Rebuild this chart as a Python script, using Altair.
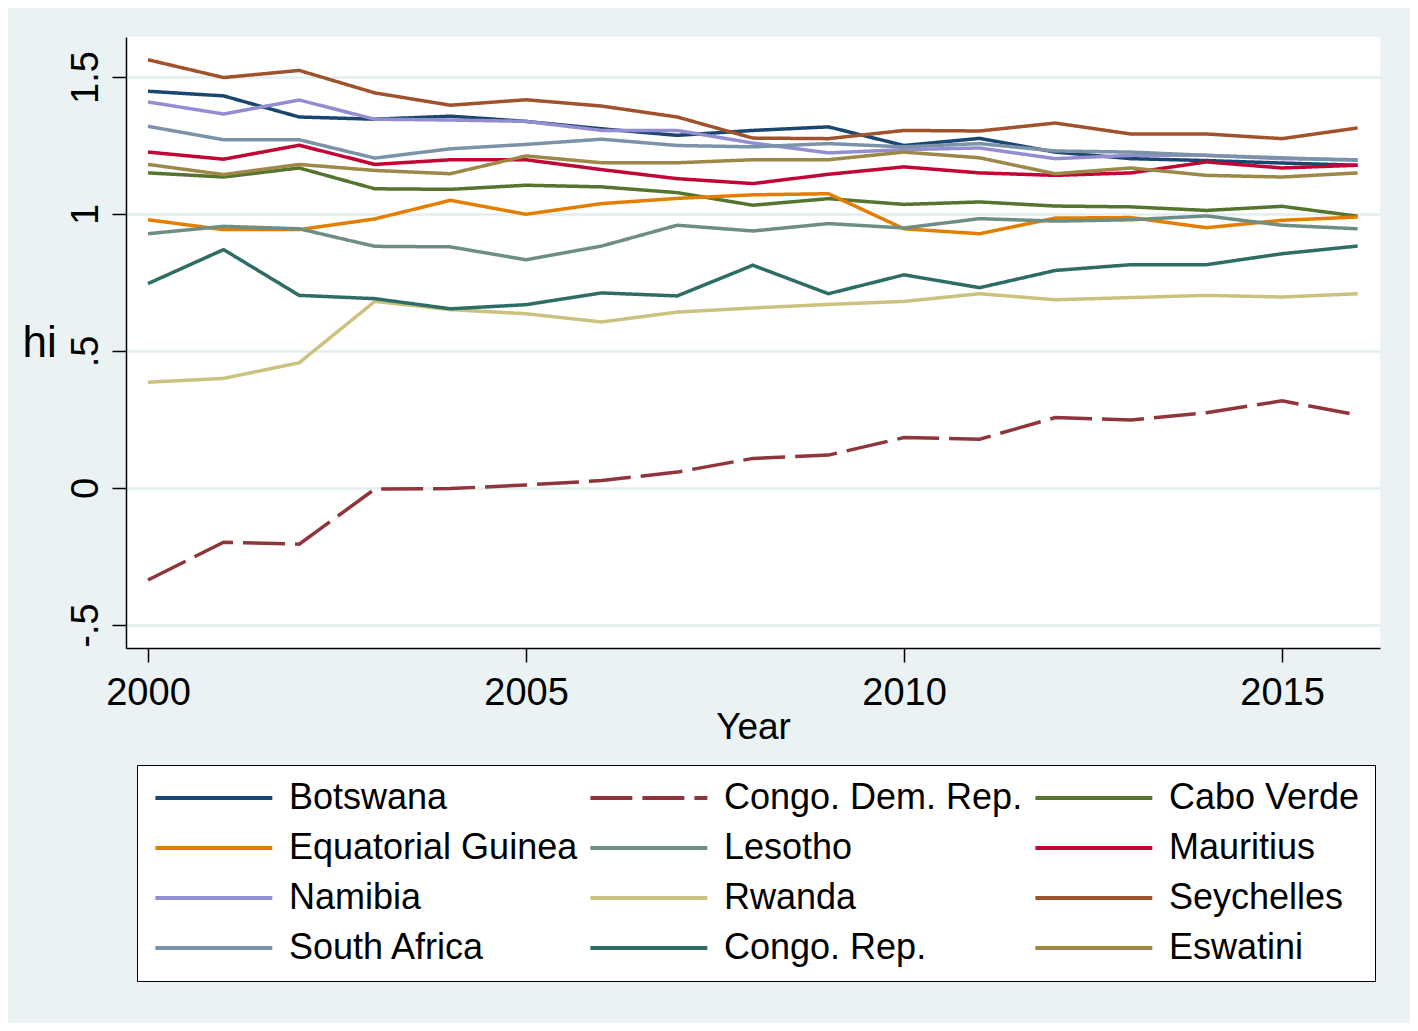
import altair as alt
import pandas as pd

years = list(range(2000, 2017))

countries = ["Botswana", "Congo. Dem. Rep.", "Cabo Verde",
             "Equatorial Guinea", "Lesotho", "Mauritius",
             "Namibia", "Rwanda", "Seychelles",
             "South Africa", "Congo. Rep.", "Eswatini"]

botswana = [1.448, 1.431, 1.354, 1.346, 1.357, 1.338, 1.311, 1.287, 1.305, 1.318, 1.250, 1.276, 1.226, 1.202, 1.195, 1.186, 1.178]
congo_dr = [-0.336, -0.198, -0.205, -0.004, -0.002, 0.011, 0.027, 0.058, 0.108, 0.120, 0.184, 0.178, 0.257, 0.248, 0.275, 0.318, 0.266]
cabo_verde = [1.150, 1.135, 1.168, 1.092, 1.090, 1.105, 1.099, 1.078, 1.032, 1.056, 1.035, 1.044, 1.029, 1.026, 1.013, 1.028, 0.992]
eq_guinea = [0.979, 0.943, 0.943, 0.982, 1.050, 0.999, 1.038, 1.057, 1.070, 1.074, 0.946, 0.928, 0.985, 0.987, 0.950, 0.977, 0.989]
lesotho = [0.928, 0.955, 0.946, 0.882, 0.880, 0.833, 0.883, 0.959, 0.938, 0.965, 0.949, 0.983, 0.974, 0.979, 0.993, 0.959, 0.946]
mauritius = [1.226, 1.200, 1.251, 1.181, 1.198, 1.198, 1.162, 1.129, 1.111, 1.145, 1.172, 1.150, 1.141, 1.150, 1.190, 1.168, 1.178]
namibia = [1.409, 1.365, 1.416, 1.346, 1.343, 1.338, 1.305, 1.305, 1.259, 1.223, 1.235, 1.241, 1.202, 1.214, 1.214, 1.202, 1.198]
rwanda = [0.386, 0.400, 0.457, 0.681, 0.651, 0.636, 0.606, 0.642, 0.657, 0.670, 0.681, 0.709, 0.687, 0.695, 0.703, 0.697, 0.709]
seychelles = [1.563, 1.498, 1.524, 1.442, 1.397, 1.417, 1.394, 1.354, 1.277, 1.275, 1.305, 1.303, 1.332, 1.292, 1.292, 1.275, 1.314]
south_africa = [1.320, 1.271, 1.271, 1.204, 1.238, 1.254, 1.273, 1.250, 1.245, 1.257, 1.245, 1.257, 1.230, 1.226, 1.214, 1.205, 1.196]
congo_rep = [0.746, 0.870, 0.703, 0.691, 0.654, 0.669, 0.712, 0.701, 0.813, 0.709, 0.778, 0.731, 0.794, 0.815, 0.815, 0.855, 0.883]
eswatini = [1.181, 1.144, 1.181, 1.159, 1.147, 1.212, 1.187, 1.187, 1.198, 1.198, 1.226, 1.205, 1.147, 1.168, 1.141, 1.135, 1.150]

series = [botswana, congo_dr, cabo_verde, eq_guinea, lesotho, mauritius,
          namibia, rwanda, seychelles, south_africa, congo_rep, eswatini]

colors = ["#1a476f", "#90353b", "#55752f", "#e37e00", "#6e8e84", "#c10534",
          "#938dd2", "#cac27e", "#a0522d", "#7b92a8", "#2d6d66", "#9c8847"]
dashes = [[1, 0], [42, 10], [1, 0], [1, 0], [1, 0], [1, 0],
          [1, 0], [1, 0], [1, 0], [1, 0], [1, 0], [1, 0]]

y_ticks = [-0.5, 0, 0.5, 1, 1.5]
x_ticks = [2000, 2005, 2010, 2015]

rows = []
for i, (c, vals) in enumerate(zip(countries, series)):
    for yr, v in zip(years, vals):
        rows.append({"Country": c, "Year": yr, "hi": v, "order": i})
df = pd.DataFrame(rows)

FONT = "Liberation Sans"

legend = alt.Legend(
    title=None, orient="none", legendX=11, legendY=728, columns=3,
    direction="horizontal",
    symbolType="M-1,0H7", symbolSize=855, symbolStrokeWidth=4,
    symbolFillColor="transparent",
    labelFontSize=36, labelFont=FONT, labelColor="black", labelOffset=101,
    columnPadding=4, rowPadding=14, padding=15,
    strokeColor="black", fillColor="white", labelLimit=600,
)

chart = alt.Chart(df).mark_line(strokeWidth=3.5, clip=True).encode(
    x=alt.X("Year:Q",
            scale=alt.Scale(domain=[1999.709, 2016.296], nice=False, zero=False),
            axis=alt.Axis(values=x_ticks, format="d", title="Year", grid=False,
                          labelFontSize=38, labelFont=FONT, labelColor="black",
                          labelBaseline="alphabetic", labelPadding=42,
                          tickSize=14, tickWidth=1.5, tickColor="black",
                          domainColor="black", domainWidth=1.5,
                          titleFontSize=37, titleFont=FONT, titleFontWeight="normal",
                          titleColor="black", titleBaseline="alphabetic",
                          titleY=90, titleX=627, titleAlign="center")),
    y=alt.Y("hi:Q",
            scale=alt.Scale(domain=[-0.584, 1.646], nice=False, zero=False),
            axis=alt.Axis(values=y_ticks,
                          labelExpr="datum.value == -0.5 ? '-.5' : datum.value == 0 ? '0' : datum.value == 0.5 ? '.5' : datum.value == 1 ? '1' : '1.5'",
                          labelAngle=270, labelAlign="center", labelBaseline="alphabetic",
                          labelFontSize=38, labelFont=FONT, labelColor="black",
                          labelPadding=15,
                          tickSize=14, tickWidth=1.5, tickColor="black",
                          domainColor="black", domainWidth=1.5,
                          grid=True, gridColor="#e4eef0", gridWidth=2.5,
                          title="hi", titleAngle=0, titleAlign="left",
                          titleBaseline="alphabetic", titleX=-104, titleY=319,
                          titleFontSize=44, titleFont=FONT, titleFontWeight="normal",
                          titleColor="black")),
    color=alt.Color("Country:N", sort=countries,
                    scale=alt.Scale(domain=countries, range=colors), legend=legend),
    strokeDash=alt.StrokeDash("Country:N", sort=countries,
                              scale=alt.Scale(domain=countries, range=dashes), legend=legend),
    order=alt.Order("order:Q"),
).properties(
    width=1254, height=611,
    autosize=alt.AutoSizeParams(type="none"),
    padding={"left": 118, "top": 29, "right": 30, "bottom": 375},
    background="#eaf2f3",
).configure_view(
    fill="white", strokeWidth=0,
)

chart.save("out.html", embed_options={"renderer": "svg", "actions": False})
